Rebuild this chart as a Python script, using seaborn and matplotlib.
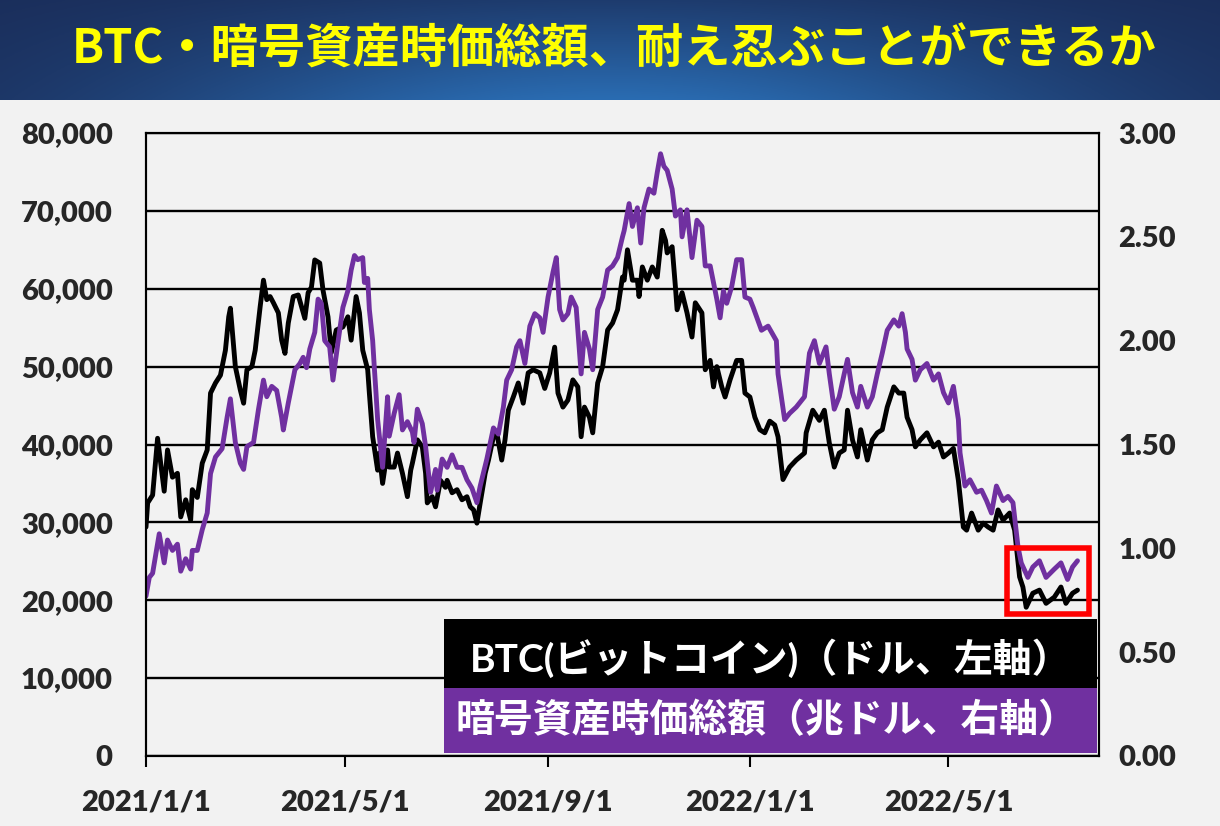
import numpy as np
import pandas as pd
import matplotlib
matplotlib.use("Agg")
import matplotlib.pyplot as plt
import matplotlib.ticker as mticker
from matplotlib.patches import Rectangle
import seaborn as sns

# ---- data (days after 2021-01-01) ----
btc_day = [0, 1, 4, 7, 11, 13, 16, 19, 21, 24,
           27, 28, 31, 34, 37, 39, 42, 45, 48, 50,
           51, 54, 57, 59, 61, 64, 66, 69, 71, 73,
           75, 77, 80, 82, 84, 86, 89, 92, 94, 96,
           98, 100, 102, 105, 107, 110, 112, 115, 119, 122,
           124, 127, 129, 131, 134, 135, 137, 140, 141, 143,
           146, 147, 150, 152, 155, 158, 160, 161, 164, 167,
           169, 170, 173, 175, 178, 181, 182, 185, 188, 191,
           194, 196, 198, 200, 202, 205, 207, 210, 212, 215,
           217, 219, 222, 225, 228, 231, 234, 238, 241, 244,
           247, 249, 252, 255, 258, 261, 263, 265, 268, 270,
           273, 276, 279, 282, 285, 288, 289, 291, 294, 297,
           298, 300, 303, 306, 309, 312, 314, 315, 318, 320,
           321, 324, 327, 330, 332, 336, 338, 341, 343, 345,
           348, 350, 353, 357, 360, 362, 365, 368, 371, 374,
           377, 380, 382, 385, 389, 393, 398, 399, 403, 407,
           410, 413, 416, 419, 422, 424, 427, 430, 432, 436,
           439, 442, 445, 448, 452, 455, 458, 460, 463, 465,
           468, 472, 476, 479, 482, 485, 488, 491, 494, 496,
           499, 503, 506, 509, 512, 515, 518, 522, 525, 528,
           530, 532, 536, 540, 544, 549, 553, 556, 560, 563]
btc_usd = [29400, 32500, 33500, 40800, 34000, 39300, 35800, 36300, 30700, 32900,
           30300, 34200, 33200, 37600, 39300, 46600, 47900, 48900, 52100, 56400,
           57500, 50000, 47000, 45300, 49600, 50000, 52100, 57700, 61100, 58600,
           59000, 58200, 56900, 53400, 51700, 55600, 59000, 59200, 57700, 56200,
           59500, 60200, 63700, 63300, 59800, 56400, 51800, 54700, 55100, 56400,
           53400, 59000, 56900, 52100, 49600, 46600, 41000, 36700, 38900, 35000,
           39300, 37100, 37100, 38900, 36300, 33300, 36700, 37600, 40600, 39700,
           36300, 32500, 33300, 32000, 35400, 34500, 35400, 33800, 34200, 32900,
           33300, 32000, 31600, 29900, 32500, 36300, 38000, 41000, 41500, 38000,
           40600, 44400, 46100, 47900, 45300, 49200, 49600, 49200, 47200, 49200,
           52500, 46600, 44800, 45700, 48300, 47400, 41000, 44800, 43500, 41500,
           47900, 50000, 54700, 55600, 57300, 61500, 61100, 65000, 61100, 61100,
           59000, 62800, 61100, 62800, 61500, 67500, 66200, 64600, 65400, 60200,
           57300, 59500, 56900, 53800, 58200, 56900, 49600, 50800, 47400, 50000,
           47400, 46100, 48300, 50800, 50800, 46600, 46100, 43500, 41900, 41500,
           43000, 42500, 41000, 35500, 37100, 38000, 38900, 41500, 44400, 43100,
           44400, 40200, 37100, 38900, 39300, 44400, 40600, 38400, 41900, 38000,
           40600, 41500, 41900, 44800, 47400, 46600, 46600, 43500, 41900, 39700,
           40600, 41500, 39700, 40300, 38400, 38900, 39500, 35400, 29400, 29000,
           31200, 29000, 29900, 29400, 29000, 31600, 30300, 31200, 29000, 23000,
           21700, 19100, 20900, 21300, 19600, 20400, 21700, 19600, 20900, 21300]

mcap_day = [0, 2, 4, 8, 11, 13, 16, 19, 21, 24,
            27, 28, 31, 34, 37, 39, 42, 46, 49, 51,
            54, 57, 59, 61, 65, 68, 71, 73, 76, 79,
            82, 83, 86, 90, 93, 95, 97, 99, 102, 104,
            106, 108, 111, 113, 116, 119, 122, 124, 126, 128,
            131, 132, 134, 135, 137, 138, 139, 140, 143, 146,
            147, 150, 153, 155, 158, 161, 162, 164, 167, 169,
            172, 175, 176, 179, 182, 185, 188, 191, 194, 197,
            200, 202, 206, 210, 213, 216, 218, 221, 224, 226,
            229, 232, 235, 238, 240, 243, 246, 248, 250, 252,
            255, 257, 260, 263, 265, 268, 270, 273, 276, 279,
            282, 285, 288, 289, 292, 294, 297, 299, 301, 304,
            307, 309, 311, 313, 315, 318, 320, 323, 324, 327,
            330, 333, 336, 338, 341, 343, 345, 347, 349, 351,
            354, 357, 360, 362, 365, 367, 372, 376, 381, 382,
            386, 389, 393, 398, 401, 404, 407, 411, 413, 416,
            419, 422, 424, 427, 430, 432, 436, 439, 442, 445,
            448, 452, 455, 457, 459, 460, 463, 465, 468, 472,
            476, 479, 482, 485, 488, 491, 492, 495, 498, 502,
            505, 508, 511, 514, 518, 521, 524, 527, 529, 533,
            536, 540, 544, 549, 553, 557, 560, 563]
mcap_tn = [0.77, 0.86, 0.88, 1.07, 0.93, 1.04, 0.99, 1.02, 0.89, 0.95,
           0.90, 0.99, 0.99, 1.09, 1.17, 1.36, 1.44, 1.48, 1.63, 1.72,
           1.51, 1.41, 1.38, 1.49, 1.51, 1.67, 1.81, 1.73, 1.78, 1.76,
           1.63, 1.57, 1.70, 1.86, 1.89, 1.92, 1.87, 1.96, 2.04, 2.20,
           2.18, 2.00, 1.97, 1.81, 1.99, 2.16, 2.24, 2.34, 2.41, 2.39,
           2.40, 2.28, 2.30, 2.15, 2.00, 1.87, 1.75, 1.62, 1.39, 1.73,
           1.54, 1.65, 1.74, 1.57, 1.61, 1.56, 1.51, 1.67, 1.60, 1.49,
           1.27, 1.38, 1.28, 1.43, 1.39, 1.45, 1.39, 1.39, 1.33, 1.29,
           1.22, 1.30, 1.43, 1.58, 1.55, 1.68, 1.81, 1.86, 1.97, 2.00,
           1.89, 2.07, 2.13, 2.11, 2.04, 2.21, 2.33, 2.40, 2.15, 2.10,
           2.13, 2.21, 2.16, 1.84, 2.04, 1.96, 1.86, 2.15, 2.21, 2.34,
           2.36, 2.40, 2.50, 2.53, 2.66, 2.55, 2.64, 2.47, 2.64, 2.73,
           2.71, 2.81, 2.90, 2.84, 2.82, 2.73, 2.60, 2.63, 2.50, 2.63,
           2.40, 2.58, 2.55, 2.36, 2.36, 2.28, 2.20, 2.11, 2.24, 2.18,
           2.26, 2.39, 2.39, 2.21, 2.20, 2.16, 2.05, 2.07, 2.00, 1.84,
           1.62, 1.65, 1.68, 1.73, 1.94, 2.00, 1.89, 1.97, 1.84, 1.67,
           1.73, 1.84, 1.91, 1.75, 1.68, 1.78, 1.68, 1.73, 1.84, 1.94,
           2.05, 2.10, 2.07, 2.13, 2.04, 1.96, 1.91, 1.81, 1.86, 1.89,
           1.81, 1.84, 1.75, 1.70, 1.78, 1.62, 1.46, 1.30, 1.33, 1.27,
           1.28, 1.23, 1.17, 1.30, 1.23, 1.25, 1.22, 1.01, 0.93, 0.86,
           0.91, 0.94, 0.86, 0.90, 0.93, 0.85, 0.91, 0.94]

x_ticks = ["2021-01-01", "2021-05-01", "2021-09-01", "2022-01-01", "2022-05-01"]
x_tick_labels = ["2021/1/1", "2021/5/1", "2021/9/1", "2022/1/1", "2022/5/1"]
left_ticks = [0, 10000, 20000, 30000, 40000, 50000, 60000, 70000, 80000]
right_ticks = [0.0, 0.5, 1.0, 1.5, 2.0, 2.5, 3.0]

title = "BTC・暗号資産時価総額、耐え忍ぶことができるか"
label_btc = "BTC(ビットコイン)（ドル、左軸）"
label_mcap = "暗号資産時価総額（兆ドル、右軸）"

assert len(btc_day) == len(btc_usd)
assert len(mcap_day) == len(mcap_tn)

start = pd.Timestamp("2021-01-01")
btc = pd.DataFrame({"date": start + pd.to_timedelta(btc_day, unit="D"), "value": btc_usd})
mcap = pd.DataFrame({"date": start + pd.to_timedelta(mcap_day, unit="D"), "value": mcap_tn})

# ---- style ----
sns.set_style("white")
bg = "#f2f2f2"
purple = "#7030a0"
num_font = ["Lato", "Noto Sans CJK JP"]
jp_font = ["Noto Sans CJK JP", "DejaVu Sans"]
plt.rcParams["font.family"] = num_font

fig = plt.figure(figsize=(12.2, 8.26), dpi=100, facecolor=bg)

# banner with gradient
bax = fig.add_axes([0, 1 - 100 / 826, 1, 100 / 826])
gx = np.linspace(0, 1, 400)[None, :]
gy = np.linspace(0, 1, 60)[:, None]
f = np.exp(-((gx - 0.5) / 0.38) ** 2) * (0.25 + 0.75 * gy)
dark = np.array([26, 44, 88]) / 255
light = np.array([42, 108, 178]) / 255
grad = dark[None, None, :] + (light - dark)[None, None, :] * f[:, :, None]
bax.imshow(grad, aspect="auto", extent=[0, 1, 0, 1], origin="upper")
bax.set_axis_off()
bax.text(0.503, 0.5, title, color="#ffff00", fontsize=34, fontweight="bold",
         family=jp_font, ha="center", va="center")

# main plot
ax = fig.add_axes([146 / 1220, 1 - 756 / 826, (1099 - 146) / 1220, (756 - 133) / 826])
ax.set_facecolor(bg)
sns.lineplot(data=btc, x="date", y="value", ax=ax, color="black", linewidth=3.5)

ax2 = ax.twinx()
ax2.patch.set_visible(False)
sns.lineplot(data=mcap, x="date", y="value", ax=ax2, color=purple, linewidth=3.5)

ax.set_xlim(start, pd.Timestamp("2022-07-31"))
ax.set_ylim(0, 80000)
ax2.set_ylim(0, 3)
ax.set_yticks(left_ticks)
ax2.set_yticks(right_ticks)
ax.yaxis.set_major_formatter(mticker.StrMethodFormatter("{x:,.0f}"))
ax2.yaxis.set_major_formatter(mticker.StrMethodFormatter("{x:.2f}"))
ax.set_xticks(pd.to_datetime(x_ticks))
ax.set_xticklabels(x_tick_labels)

for a in (ax, ax2):
    a.set_xlabel("")
    a.set_ylabel("")
    for s in a.spines.values():
        s.set_color("black")
        s.set_linewidth(1.5)

ax.grid(axis="y", color="black", linewidth=1.7)
ax.grid(axis="x", visible=False)
ax2.grid(False)
ax.set_axisbelow(True)

ax.tick_params(axis="y", length=0, pad=24, labelsize=21)
ax2.tick_params(axis="y", length=0, pad=14, labelsize=21)
ax.tick_params(axis="x", bottom=True, length=8, width=1.5, color="black",
               direction="out", pad=16, labelsize=21)
ax2.tick_params(axis="x", bottom=False)
for lab in ax.get_xticklabels() + ax.get_yticklabels() + ax2.get_yticklabels():
    lab.set_fontweight("heavy")

# legend boxes (figure pixel layout)
W, H = 1220, 826
def fig_rect(x0, y0, x1, y1, **kw):
    return Rectangle((x0 / W, 1 - y1 / H), (x1 - x0) / W, (y1 - y0) / H,
                     transform=fig.transFigure, **kw)

fig.patches.append(fig_rect(444, 619, 1097, 688, facecolor="black", edgecolor="none", zorder=5))
fig.patches.append(fig_rect(444, 688, 1097, 753, facecolor=purple, edgecolor="none", zorder=5))
fig.text(470 / W, 1 - 658 / H, label_btc, color="white", fontsize=28, fontweight="bold",
         family=num_font, ha="left", va="center", zorder=6)
fig.text(455 / W, 1 - 721 / H, label_mcap, color="white", fontsize=28, fontweight="bold",
         family=jp_font, ha="left", va="center", zorder=6)

# red highlight box
fig.patches.append(fig_rect(1007, 548, 1089, 614, facecolor="none", edgecolor="#ff0000",
                            linewidth=4, zorder=7))

fig.savefig("out.png", dpi=100, facecolor=bg)
